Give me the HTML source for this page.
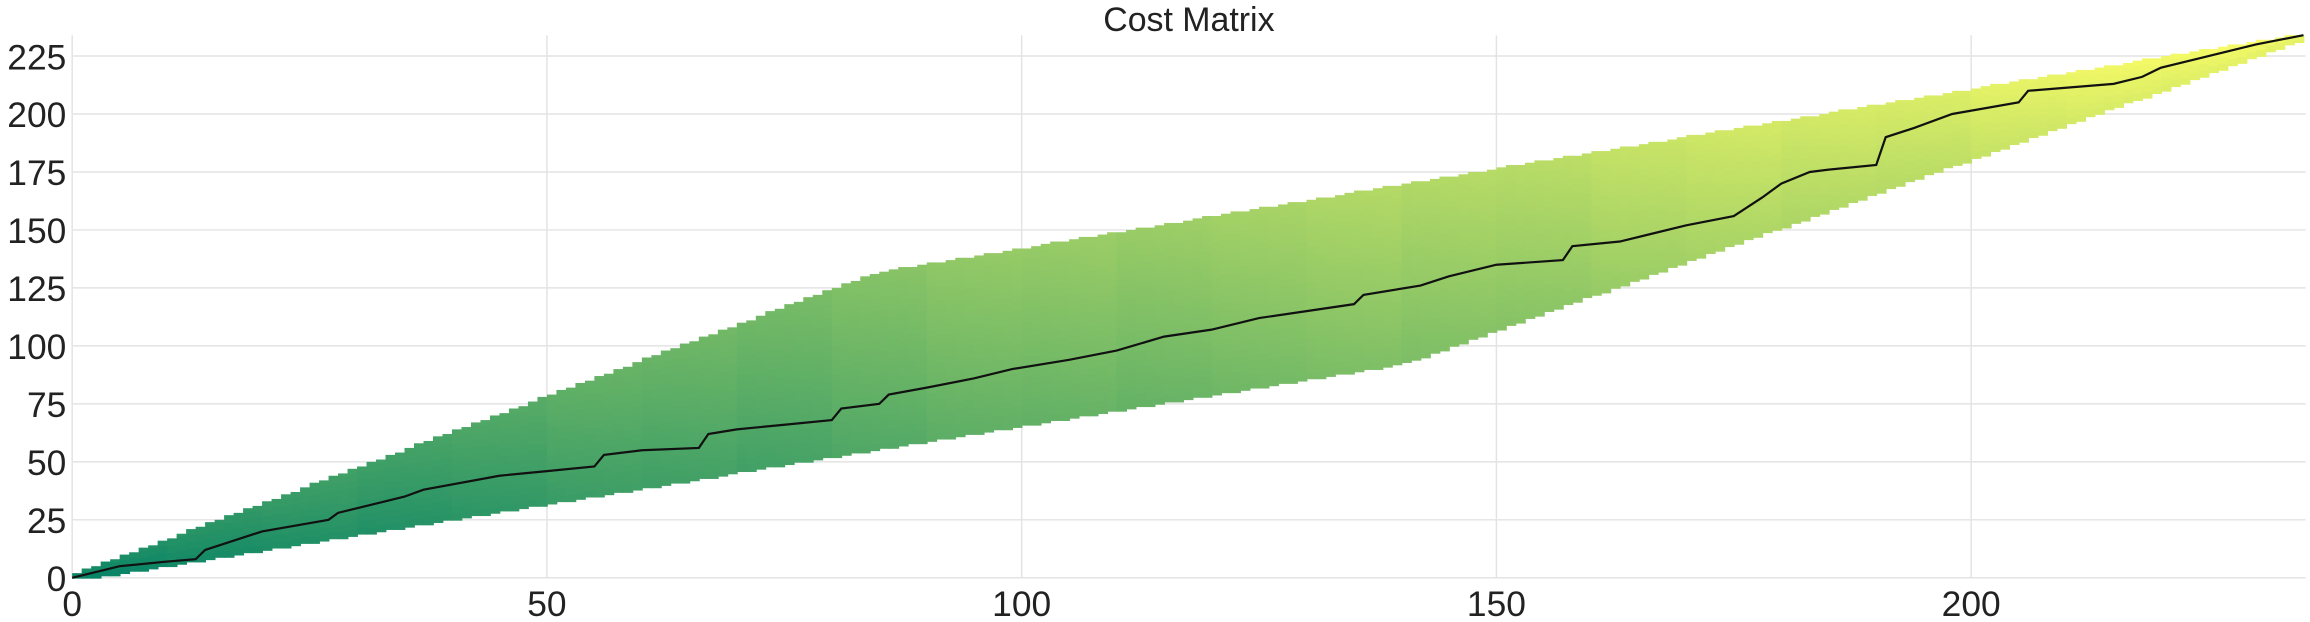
<!DOCTYPE html>
<html><head><meta charset="utf-8"><style>
html,body{margin:0;padding:0;background:#fff;}
svg{display:block;font-family:"Liberation Sans",sans-serif;}
</style></head><body>
<svg id="chart" width="2310" height="622" viewBox="0 0 1568 422" preserveAspectRatio="none">
<text x="807" y="21" font-size="23" text-anchor="middle" fill="#222">Cost Matrix</text>
<g id="grid"></g>
<g id="cells"></g>
<g id="pathg"></g>
<g id="ticks"></g>
</svg>
<script>
const xTicks=[0,50,100,150,200];
const yTicks=[0,25,50,75,100,125,150,175,200,225];
const nX=235, nY=234;
// band corner points (x,y): upper and lower boundary breakpoints
const upperX=[0,85,235], upperY=[0,131,234];
const lowerX=[0,140,235], lowerY=[0,94,234];
// column cost offsets sampled every 10 x units
const colOffset=[0,0.01,0.02,0.0,0.01,0.03,0.02,0.0,0.02,0.04,0.03,0.01,0.02,0.03,0.01,0.0,0.02,0.03,0.01,0.0,0.02,0.03,0.02,0.01];
const pathX=[0,5,10,13,14,20,27,28,35,37,45,50,55,56,60,66,67,70,75,80,81,85,86,90,95,99,105,110,115,120,125,130,135,136,142,145,150,157,158,163,170,175,178,180,183,185,190,191,194,198,205,206,215,218,220,225,230,235];
const pathY=[0,5,7,8,12,20,25,28,35,38,44,46,48,53,55,56,62,64,66,68,73,75,79,82,86,90,94,98,104,107,112,115,118,122,126,130,135,137,143,145,152,156,164,170,175,176,178,190,194,200,205,210,213,216,220,225,230,234];

const X=v=>49+v*6.445, Y=v=>392-v*1.5733;
const NS="http://www.w3.org/2000/svg";
function mk(t,a,p){const e=document.createElementNS(NS,t);for(const k in a)e.setAttribute(k,a[k]);p.appendChild(e);return e;}
function interp(xs,ys,x){for(let i=1;i<xs.length;i++){if(x<=xs[i]){return ys[i-1]+(ys[i]-ys[i-1])*(x-xs[i-1])/(xs[i]-xs[i-1]);}}return ys[ys.length-1];}
const grid=document.getElementById('grid'),ticks=document.getElementById('ticks');
xTicks.forEach(t=>{
 const l=mk('line',{x1:X(t),x2:X(t),y1:24,y2:392,stroke:'#e3e3e3','stroke-width':1},grid);
 
 
 const tx=mk('text',{x:X(t),y:418,'font-size':24,'text-anchor':'middle',fill:'#222'},ticks);tx.textContent=t;
 
 
});
yTicks.forEach(t=>{
 const l=mk('line',{x1:49,x2:1565,y1:Y(t),y2:Y(t),stroke:'#e3e3e3','stroke-width':1},grid);
 
 
 const tx=mk('text',{x:45,y:Y(t)+9,'font-size':24,'text-anchor':'end',fill:'#222'},ticks);tx.textContent=t;
 
 
});
const cells=document.getElementById('cells');
function col(v){v=Math.max(0,Math.min(1,v));return `rgb(${Math.round(v*255)},${Math.round((0.5+v/2)*255)},102)`;}
for(let i=0;i<nX;i++){
 const hi=Math.ceil(interp(upperX,upperY,i+1)), lo=Math.floor(interp(lowerX,lowerY,i));
 const off=colOffset[Math.min(colOffset.length-1,Math.floor(i/10))];
 for(let j=Math.max(0,lo-1);j<hi;j+=3){
  const j2=Math.min(hi,j+3);
  const v=0.04+(i+j)/530+off+0.06*(j-lo)/Math.max(1,hi-lo);
  const r=mk('rect',{x:X(i),y:Y(j2),width:6.445+0.6,height:(j2-j)*1.5733+0.6,fill:col(v)},cells);
  
  
 }
}
let d=`M${X(pathX[0])},${Y(pathY[0])}`;
for(let k=1;k<pathX.length;k++){d+=` L${X(pathX[k])},${Y(pathY[k])}`;}
const p=mk('path',{d:d,fill:'none',stroke:'#111','stroke-width':1.5},document.getElementById('pathg'));


</script>
</body></html>
